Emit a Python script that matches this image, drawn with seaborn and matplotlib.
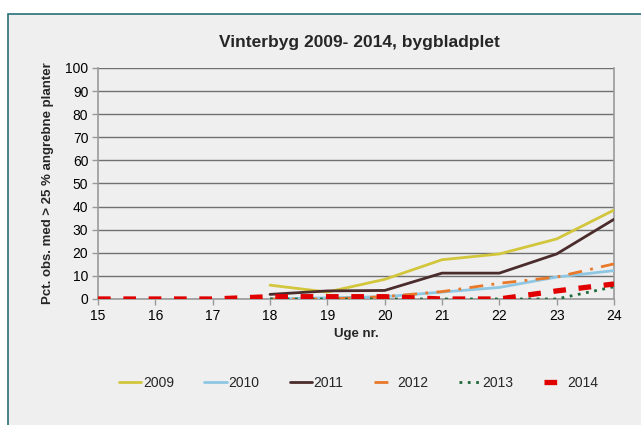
import matplotlib
matplotlib.use("Agg")
import matplotlib.pyplot as plt
import seaborn as sns
import pandas as pd
from matplotlib.patches import Rectangle

weeks_full = [15, 16, 17, 18, 19, 20, 21, 22, 23, 24]
weeks_late = [18, 19, 20, 21, 22, 23, 24]

v2009 = [6, 3, 8.5, 17, 19.5, 26, 38.5]
v2010 = [0, 0.5, 1, 3, 5, 9.5, 12.3]
v2011 = [2, 3.5, 3.7, 11.2, 11.2, 19.5, 34.5]
v2012 = [0, 0, 1, 3.2, 6.8, 9.5, 15.2]
v2013 = [0, 0, 0, 0, 0, 0, 5.3]
v2014 = [0, 0, 0, 1, 1, 1, 0, 0, 3.5, 6.5]

title = "Vinterbyg 2009- 2014, bygbladplet"
ylabel = "Pct. obs. med > 25 % angrebne planter"
xlabel = "Uge nr."

sns.set_theme(style="white")
plt.rcParams['font.family'] = ['Liberation Sans', 'DejaVu Sans']

fig = plt.figure(figsize=(6.41, 4.25), dpi=100)
fig.patch.set_facecolor("white")
fig.patches.append(Rectangle((8/641, -0.05), 1.0, 1 - 14/425 + 0.05, transform=fig.transFigure,
                             facecolor="#efefef", edgecolor="#2a6f78", linewidth=1.2, zorder=-10))

ax = fig.add_axes([98/641, 1 - 299/425, (614 - 98)/641, (299 - 68)/425])
ax.set_facecolor("#efefef")

series = [
    ("2009", weeks_late, v2009, dict(color="#d2c63c", lw=2.0, ls="-")),
    ("2010", weeks_late, v2010, dict(color="#8fc7e3", lw=2.0, ls="-")),
    ("2011", weeks_late, v2011, dict(color="#4b2c2c", lw=2.0, ls="-")),
    ("2012", weeks_late, v2012, dict(color="#e8792a", lw=2.0, ls=(0, (5, 3, 1, 3)))),
    ("2013", weeks_late, v2013, dict(color="#1f6a3c", lw=2.0, ls=(0, (1, 2)))),
    ("2014", weeks_full, v2014, dict(color="#e00000", lw=3.8, ls=(0, (2.4, 2.4)))),
]

for name, xs, ys, st in series:
    df = pd.DataFrame({"week": xs, "val": ys})
    sns.lineplot(data=df, x="week", y="val", ax=ax, label=name,
                 color=st["color"], linewidth=st["lw"], linestyle=st["ls"], zorder=3)

for ln in ax.get_lines():
    ln.set_dash_capstyle("butt")

ax.set_xlim(15, 24)
ax.set_ylim(0, 100)
ax.set_xticks(weeks_full)
ax.set_yticks(range(0, 101, 10))
ax.yaxis.grid(True, color="#707070", linewidth=1.0)
ax.set_axisbelow(True)
for s in ["left", "bottom", "right", "top"]:
    ax.spines[s].set_color("#9a9a9a")
    ax.spines[s].set_linewidth(1.2)
ax.spines["top"].set_visible(False)
ax.tick_params(axis="both", labelsize=10, colors="black", length=4, width=1, direction="out",
               bottom=True, left=True, pad=3)
ax.tick_params(axis="both", color="#9a9a9a")

ax.set_xlabel(xlabel, fontsize=9.5, fontweight="bold", labelpad=4)
ax.set_ylabel(ylabel, fontsize=9.5, fontweight="bold", labelpad=8)
fig.text(0.56, 1 - 43/425, title, ha="center", va="center", fontsize=12.5, fontweight="bold")

leg = ax.legend(loc="center", bbox_to_anchor=((359 - 98)/516, (299 - 383)/231), ncol=6, frameon=False,
                fontsize=10, handlelength=1.6, handletextpad=0.1, columnspacing=2.2)
for h in leg.get_lines():
    h.set_dash_capstyle("butt")

fig.savefig("out.png", dpi=100, facecolor=fig.get_facecolor())
